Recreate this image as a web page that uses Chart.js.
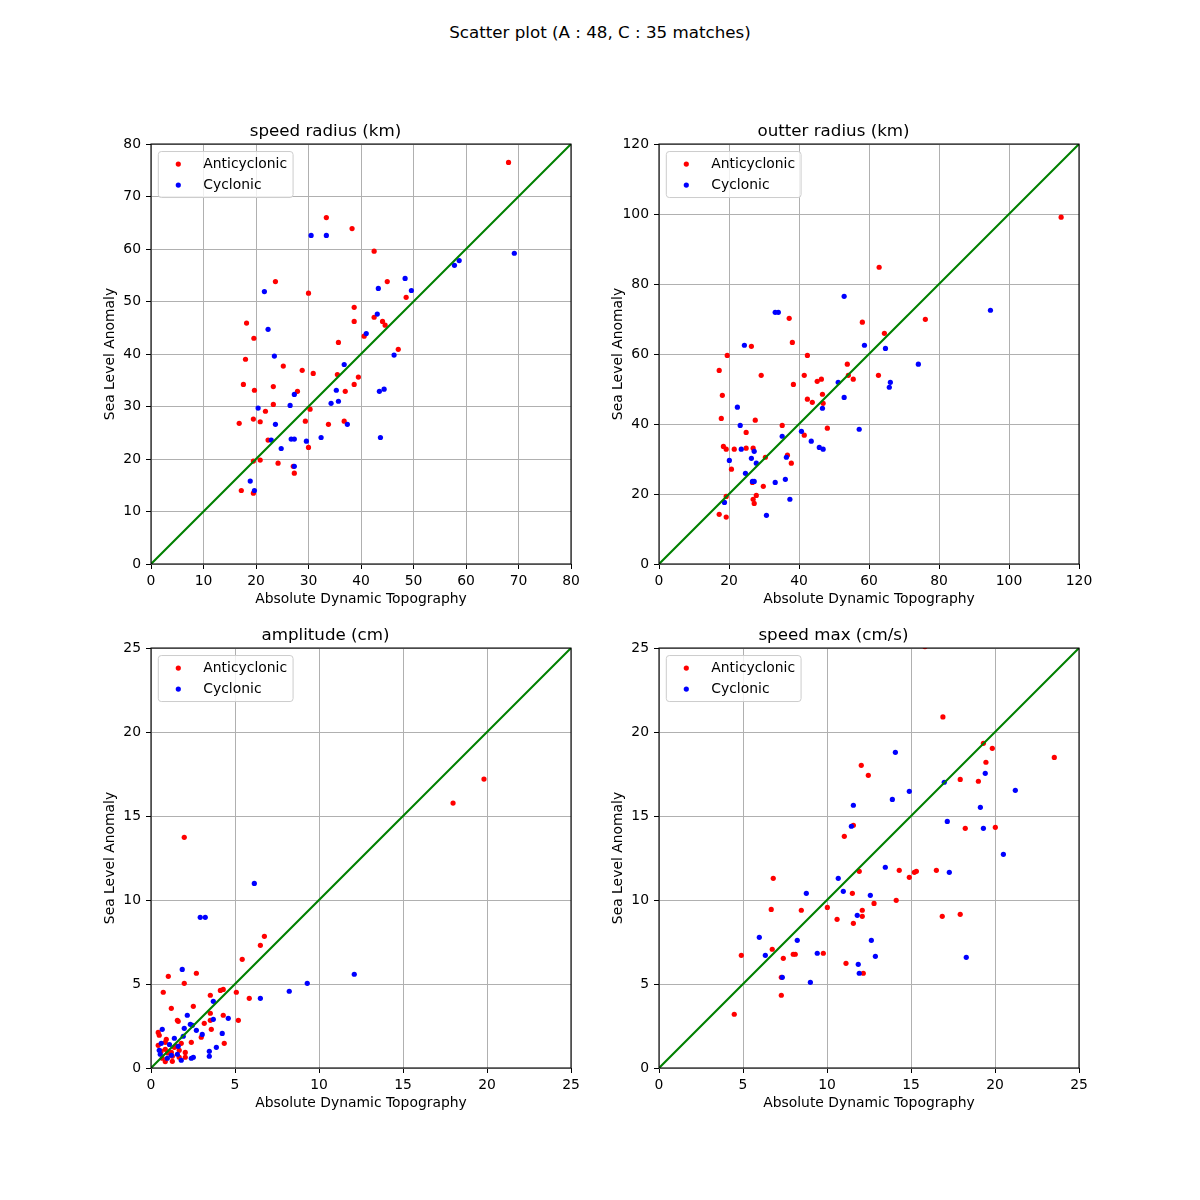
<!DOCTYPE html>
<html>
<head>
<meta charset="utf-8">
<script src="https://cdn.jsdelivr.net/npm/chart.js@4.4.1/dist/chart.umd.min.js"></script>
<style>
  html, body { margin: 0; padding: 0; background: #ffffff; }
  #page { position: relative; width: 1200px; height: 1200px; background: #ffffff; overflow: hidden; }
  #suptitle { position: absolute; left: 0; top: 22px; width: 1200px; text-align: center;
              font-family: "DejaVu Sans", sans-serif; font-size: 16.7px; line-height: 20px; color: #000; }
  canvas { position: absolute; }
</style>
</head>
<body>
<div id="page">
  <div id="suptitle">Scatter plot (A : 48, C : 35 matches)</div>
  <canvas id="c1" width="511" height="514" style="left:80px;top:100px;"></canvas>
  <canvas id="c2" width="511" height="514" style="left:588px;top:100px;"></canvas>
  <canvas id="c3" width="511" height="504" style="left:80px;top:614px;"></canvas>
  <canvas id="c4" width="511" height="504" style="left:588px;top:614px;"></canvas>
</div>
<script>
// ---------------- DATA ----------------
const seriesLabels = ["Anticyclonic", "Cyclonic"];
const xAxisLabel = "Absolute Dynamic Topography";
const yAxisLabel = "Sea Level Anomaly";
const panelTitles = ["speed radius (km)", "outter radius (km)", "amplitude (cm)", "speed max (cm/s)"];
const panelMax = [80, 120, 25, 25];
const panelStep = [10, 20, 5, 5];

// speed radius (km): [ADT, SLA]
const speedRadiusAnticyclonic = [
  [33.4,66.0],[38.3,63.9],[42.5,59.6],[23.7,53.8],[45.0,53.8],[30.0,51.6],[38.7,48.9],[38.7,46.2],
  [42.5,47.0],[44.1,46.2],[44.6,45.5],[18.2,45.9],[19.6,43.0],[40.6,43.4],[47.1,40.9],[35.7,42.2],
  [18.0,39.0],[25.2,37.7],[28.8,36.9],[30.9,36.3],[35.5,36.1],[39.5,35.6],[38.7,34.2],[37.0,32.9],
  [17.6,34.2],[23.3,33.8],[19.7,33.1],[27.9,32.9],[23.3,30.4],[21.8,29.1],[30.3,29.5],[19.5,27.6],
  [20.8,27.1],[16.8,26.8],[29.4,27.2],[33.8,26.6],[36.8,27.2],[22.3,23.6],[30.0,22.2],[19.5,19.6],
  [20.8,19.8],[24.2,19.2],[27.1,18.6],[27.3,17.3],[17.2,14.0],[19.5,13.5],[68.1,76.5],[48.6,50.8]
];
const speedRadiusCyclonic = [
  [30.5,62.6],[33.4,62.6],[21.6,51.9],[43.3,52.5],[22.3,44.7],[43.1,47.6],[41.0,43.9],[23.5,39.6],
  [46.3,39.8],[36.8,38.0],[35.3,33.1],[43.5,32.9],[44.4,33.3],[27.3,32.3],[34.3,30.6],[35.7,31.0],
  [26.5,30.2],[20.4,29.7],[23.7,26.6],[37.4,26.6],[22.9,23.6],[26.7,23.8],[27.3,23.8],[29.6,23.4],
  [32.4,24.1],[43.7,24.1],[24.8,22.0],[27.3,18.6],[18.9,15.8],[19.7,14.0],[69.2,59.2],[57.8,56.9],
  [58.7,57.8],[48.4,54.4],[49.6,52.1]
];

// outter radius (km)
const outerRadiusAnticyclonic = [
  [62.9,84.8],[37.2,70.2],[58.1,69.1],[38.1,63.3],[26.4,62.2],[19.5,59.6],[42.4,59.6],[17.2,55.3],
  [53.8,57.1],[29.2,53.9],[41.5,53.9],[54.1,53.9],[55.5,52.8],[62.7,53.9],[45.2,52.2],[46.4,52.8],
  [38.4,51.3],[18.1,48.2],[42.4,47.1],[43.8,46.2],[46.7,48.5],[46.9,45.9],[17.8,41.6],[27.5,41.1],
  [35.2,39.6],[48.1,38.8],[24.9,37.6],[41.5,36.8],[18.4,33.6],[19.2,32.8],[21.5,32.8],[24.9,33.1],
  [26.9,33.1],[30.4,30.5],[36.7,31.1],[37.8,28.8],[20.7,27.1],[26.7,23.3],[29.8,22.2],[19.2,19.3],
  [27.8,19.6],[26.9,18.5],[27.2,17.3],[17.2,14.2],[19.2,13.4],[114.9,99.1],[76.1,69.9],[64.4,65.9]
];
const outerRadiusCyclonic = [
  [52.9,76.5],[33.2,71.9],[34.1,71.9],[24.4,62.5],[58.7,62.5],[51.2,51.9],[52.9,47.6],[46.7,44.5],
  [22.4,44.8],[23.2,39.6],[40.7,37.9],[57.2,38.5],[35.2,36.5],[43.5,35.1],[45.8,33.3],[46.9,32.8],
  [23.5,32.8],[27.2,32.2],[26.4,30.2],[36.4,30.5],[20.1,29.6],[27.8,28.8],[24.7,25.9],[26.7,23.6],
  [27.2,23.6],[33.2,23.3],[36.1,24.2],[37.4,18.5],[18.7,17.6],[30.7,13.9],[94.7,72.5],[64.7,61.6],
  [74.1,57.1],[66.1,51.9],[65.8,50.5]
];

// amplitude (cm)
const amplitudeAnticyclonic = [
  [1.98,13.73],[6.75,7.84],[6.51,7.30],[5.43,6.47],[1.03,5.46],[2.70,5.64],[1.98,5.04],[0.73,4.51],
  [4.13,4.62],[4.30,4.68],[5.08,4.51],[3.53,4.33],[5.85,4.15],[1.21,3.55],[2.52,3.67],[3.53,3.26],
  [1.57,2.84],[1.62,2.78],[3.17,2.66],[4.30,3.14],[3.53,2.84],[5.20,2.84],[3.59,2.30],[2.99,1.83],
  [0.43,2.12],[0.49,1.95],[4.36,1.47],[2.40,1.53],[17.98,15.77],[19.82,17.20],[0.91,1.71],[0.85,1.53],
  [1.80,1.47],[0.43,1.35],[1.39,1.23],[0.85,1.11],[1.68,1.05],[1.21,0.93],[2.04,0.93],[1.27,0.70],
  [1.68,0.64],[0.67,0.58],[2.04,0.64],[0.85,0.38],[1.27,0.40],[1.00,0.90],[1.50,1.30],[0.60,1.00]
];
const amplitudeCyclonic = [
  [6.15,10.99],[2.93,8.97],[3.23,8.97],[1.86,5.87],[12.10,5.58],[9.30,5.04],[8.23,4.57],[6.51,4.15],
  [3.71,3.97],[2.16,3.14],[4.60,2.96],[3.71,2.90],[2.34,2.60],[2.46,2.54],[1.98,2.36],[2.70,2.24],
  [0.67,2.30],[3.05,2.00],[4.24,2.06],[1.92,1.89],[1.39,1.77],[0.61,1.47],[1.62,1.29],[3.89,1.23],
  [0.49,1.05],[3.47,0.99],[1.57,0.82],[0.55,0.82],[1.21,0.76],[3.47,0.70],[0.97,0.58],[1.80,0.46],
  [2.40,0.58],[2.52,0.64],[1.10,1.40]
];

// speed max (cm/s)
const speedMaxAnticyclonic = [
  [19.31,19.33],[19.84,19.03],[23.53,18.49],[19.46,18.20],[12.04,18.02],[12.46,17.42],[17.93,17.18],[19.01,17.07],
  [11.57,14.45],[11.03,13.79],[18.23,14.27],[20.02,14.33],[11.92,11.71],[14.30,11.77],[14.90,11.35],[15.20,11.65],
  [15.32,11.71],[16.51,11.77],[6.80,11.29],[11.51,10.40],[12.80,9.80],[14.12,9.98],[10.02,9.56],[6.68,9.44],
  [8.47,9.39],[12.10,9.39],[12.10,9.03],[10.60,8.85],[11.57,8.61],[16.86,9.03],[17.93,9.15],[6.74,7.07],
  [4.90,6.71],[7.40,6.53],[7.99,6.77],[8.11,6.77],[9.78,6.83],[11.13,6.23],[12.16,5.64],[7.28,5.40],
  [7.28,4.33],[4.48,3.20],[16.90,20.90],[15.83,25.08]
];
const speedMaxCyclonic = [
  [14.07,18.79],[14.90,16.47],[13.89,15.99],[11.57,15.64],[16.98,17.01],[19.42,17.54],[21.21,16.53],[19.13,15.52],
  [17.16,14.68],[19.31,14.27],[11.45,14.39],[20.50,12.72],[13.47,11.95],[17.28,11.65],[10.67,11.29],[8.77,10.40],
  [10.97,10.52],[12.58,10.28],[11.80,9.09],[5.97,7.78],[8.23,7.60],[12.64,7.60],[6.33,6.71],[9.42,6.83],
  [12.88,6.65],[18.29,6.59],[11.86,6.17],[11.92,5.64],[7.34,5.40],[9.01,5.10]
];

// ---------------- DRAWING ----------------
const FONT = "DejaVu Sans";
const toXY = arr => arr.map(p => ({x: p[0], y: p[1]}));

const framePlugin = {
  id: 'frameAndLegend',
  afterDatasetsDraw(chart) {
    const {ctx, chartArea: a} = chart;
    ctx.save();
    // axes spines
    ctx.strokeStyle = '#000';
    ctx.lineWidth = 1.1;
    ctx.strokeRect(a.left, a.top, a.right - a.left, a.bottom - a.top);
    // legend inside (upper left), in the order of seriesLabels
    const items = seriesLabels.map(l => chart.data.datasets.find(d => d.inLegend && d.label === l)).filter(Boolean);
    ctx.font = "13.9px '" + FONT + "'";
    let maxW = 0;
    items.forEach(d => { maxW = Math.max(maxW, ctx.measureText(d.label).width); });
    const bx = a.left + 7.3, by = a.top + 7.5;
    const bw = 45 + maxW + 6, bh = 46;
    const r = 3;
    ctx.beginPath();
    ctx.moveTo(bx + r, by);
    ctx.lineTo(bx + bw - r, by); ctx.quadraticCurveTo(bx + bw, by, bx + bw, by + r);
    ctx.lineTo(bx + bw, by + bh - r); ctx.quadraticCurveTo(bx + bw, by + bh, bx + bw - r, by + bh);
    ctx.lineTo(bx + r, by + bh); ctx.quadraticCurveTo(bx, by + bh, bx, by + bh - r);
    ctx.lineTo(bx, by + r); ctx.quadraticCurveTo(bx, by, bx + r, by);
    ctx.closePath();
    ctx.fillStyle = 'rgba(255,255,255,0.8)';
    ctx.fill();
    ctx.strokeStyle = '#cccccc';
    ctx.lineWidth = 1;
    ctx.stroke();
    items.forEach((d, i) => {
      const cy = by + 12.5 + i * 21;
      ctx.beginPath();
      ctx.arc(bx + 20, cy, 2.6, 0, Math.PI * 2);
      ctx.fillStyle = d.backgroundColor;
      ctx.fill();
      ctx.fillStyle = '#000';
      ctx.textAlign = 'left';
      ctx.textBaseline = 'middle';
      ctx.fillText(d.label, bx + 45, cy);
    });
    ctx.restore();
  }
};

function makePanel(canvasId, title, anti, cyc, maxV, step, titlePad) {
  const tickFont = {family: FONT, size: 13.9};
  const scaleBase = (isX) => ({
    type: 'linear',
    min: 0, max: maxV,
    ticks: {stepSize: step, font: tickFont, color: '#000', padding: isX ? 4.5 : 5, maxRotation: 0, autoSkip: false},
    grid: {color: '#b0b0b0', lineWidth: 1, tickColor: '#000', tickLength: 5, drawTicks: true},
    border: {display: false},
    title: {display: true, text: isX ? xAxisLabel : yAxisLabel, font: tickFont, color: '#000',
            padding: isX ? {top: 0, bottom: 6.2} : {top: 21.7, bottom: 0}},
    afterFit: isX ? (s => { s.height = 50; }) : (s => { s.width = 71; })
  });
  return new Chart(document.getElementById(canvasId), {
    type: 'scatter',
    data: {
      datasets: [
        {type: 'line', label: 'diag', data: [{x: 0, y: 0}, {x: maxV, y: maxV}],
         borderColor: '#008000', borderWidth: 2.1, pointRadius: 0, fill: false, order: 0, clip: 0},
        {label: seriesLabels[1], data: toXY(cyc), backgroundColor: '#0000ff', borderWidth: 0,
         pointRadius: 2.6, order: 1, inLegend: true, clip: 0},
        {label: seriesLabels[0], data: toXY(anti), backgroundColor: '#ff0000', borderWidth: 0,
         pointRadius: 2.6, order: 2, inLegend: true, clip: 0}
      ]
    },
    options: {
      responsive: false,
      animation: false,
      devicePixelRatio: 1,
      events: [],
      layout: {padding: {left: 0, right: 20, top: 0, bottom: 0}},
      scales: {x: scaleBase(true), y: scaleBase(false)},
      plugins: {
        legend: {display: false},
        tooltip: {enabled: false},
        title: {display: true, text: title, color: '#000',
                font: {family: FONT, size: 16.7, weight: 'normal', lineHeight: 1.2},
                padding: {top: titlePad, bottom: 2}}
      }
    },
    plugins: [framePlugin]
  });
}

const charts = [
  makePanel('c1', panelTitles[0], speedRadiusAnticyclonic, speedRadiusCyclonic, panelMax[0], panelStep[0], 22),
  makePanel('c2', panelTitles[1], outerRadiusAnticyclonic, outerRadiusCyclonic, panelMax[1], panelStep[1], 22),
  makePanel('c3', panelTitles[2], amplitudeAnticyclonic, amplitudeCyclonic, panelMax[2], panelStep[2], 12),
  makePanel('c4', panelTitles[3], speedMaxAnticyclonic, speedMaxCyclonic, panelMax[3], panelStep[3], 12)
];
</script>
</body>
</html>
